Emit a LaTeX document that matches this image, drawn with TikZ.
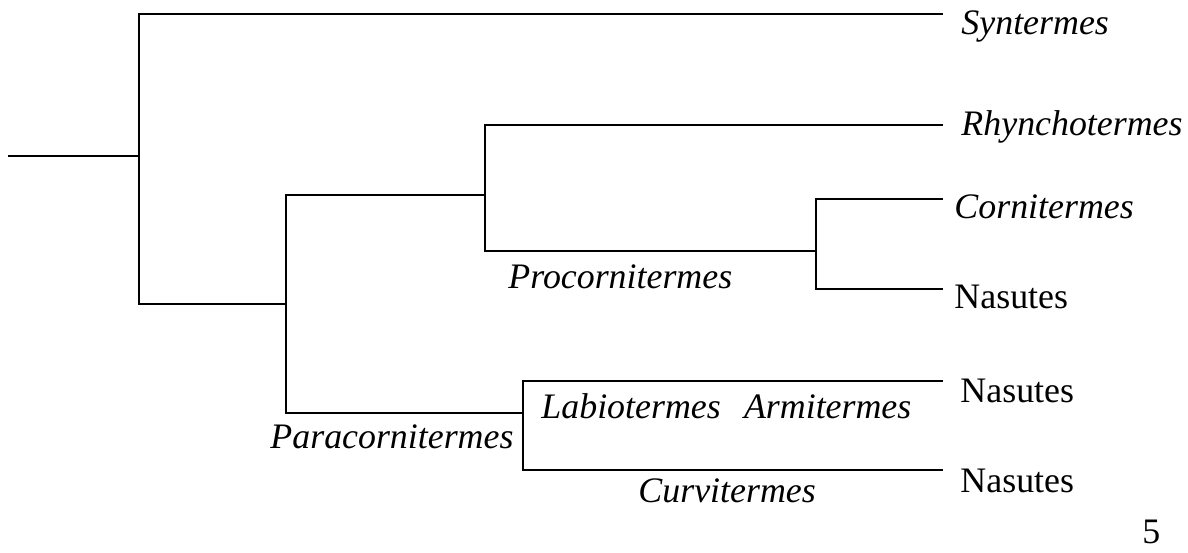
\documentclass[tikz,border=0pt]{standalone}
\usepackage{fontspec}
\setmainfont{Liberation Serif}
\usetikzlibrary{positioning}

\begin{document}
\begin{tikzpicture}[x=0.025cm,y=-0.025cm,line width=2.1pt,
  taxon/.style={anchor=base west,inner sep=0pt,font=\fontsize{25.5}{30}\selectfont\itshape},
  group/.style={anchor=base west,inner sep=0pt,font=\fontsize{25.5}{30}\selectfont}]
  \useasboundingbox (0,0) rectangle (1188,552);

  % branch points
  \coordinate (r) at (8,156);
  \coordinate (b1) at (139,156);
  \coordinate (b2) at (286,304);
  \coordinate (b3) at (485,195);
  \coordinate (b4) at (816,251);
  \coordinate (b5) at (523,413);

  % tips
  \coordinate (t1) at (943,14);
  \coordinate (t2) at (943,125);
  \coordinate (t3) at (943,199);
  \coordinate (t4) at (943,289);
  \coordinate (t5) at (943,381);
  \coordinate (t6) at (943,470);

  \draw (r) -- (b1);
  \draw (b1) |- (t1);
  \draw (b1) |- (b2);
  \draw (b2) |- (b3);
  \draw (b2) |- (b5);
  \draw (b3) |- (t2);
  \draw (b3) |- (b4);
  \draw (b4) |- (t3);
  \draw (b4) |- (t4);
  \draw (b5) |- (t5);
  \draw (b5) |- (t6);

  % names
  \node[taxon] (syn) at (960,34) {Syntermes};
  \node[taxon] (rhy) at (960,135) {Rhynchotermes};
  \node[taxon] (cor) at (953,218) {Cornitermes};
  \node[group] (nas1) at (953,308) {Nasutes};
  \node[group] (nas2) at (959,402) {Nasutes};
  \node[group] (nas3) at (959,492) {Nasutes};
  \node[taxon] (pro) at (507,288) {Procornitermes};
  \node[taxon] (par) at (269,448) {Paracornitermes};
  \node[taxon] (lab) at (540,418) {Labiotermes\hspace{0.4em} Armitermes};
  \node[taxon] (cur) at (637,502) {Curvitermes};
  \node[group] (fig) at (1141,543) {5};
\end{tikzpicture}
\end{document}
